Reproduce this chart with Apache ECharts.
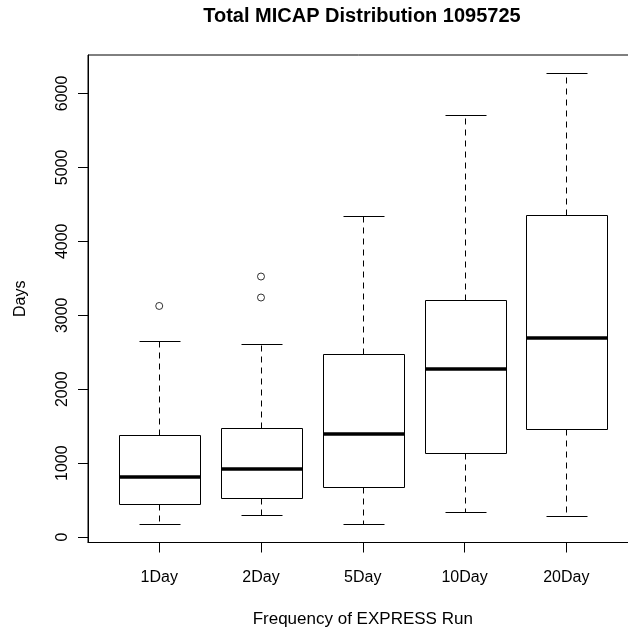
<!DOCTYPE html>
<html>
<head>
<meta charset="utf-8">
<script src="https://cdn.jsdelivr.net/npm/echarts@6/dist/echarts.min.js"></script>
<style>html,body{margin:0;padding:0;background:#fff;}#c{width:628px;height:627px;}</style>
</head>
<body>
<div id="c"></div>
<script>
var categories = ['1Day', '2Day', '5Day', '10Day', '20Day'];
var lowWhisker = [181, 294, 172, 339, 285];
var q1 = [452, 528, 682, 1133, 1457];
var median = [808, 925, 1399, 2269, 2689];
var q3 = [1386, 1475, 2482, 3203, 4357];
var highWhisker = [2652, 2612, 4344, 5706, 6275];
var outlierCategory = ['1Day', '2Day', '2Day'];
var outlierValue = [3126, 3524, 3240];
var yTicks = [0, 1000, 2000, 3000, 4000, 5000, 6000];

var boxData = categories.map(function (c, i) {
  return [i + 1, lowWhisker[i], q1[i], median[i], q3[i], highWhisker[i]];
});
var outlierData = outlierCategory.map(function (c, i) {
  return [categories.indexOf(c) + 1, outlierValue[i]];
});
var xPos = categories.map(function (c, i) { return i + 1; });

var FONT = 'Liberation Sans, Arial, sans-serif';
function px(v) { return Math.round(v) + 0.5; }

function renderBox(params, api) {
  var x = api.value(0);
  var lo = api.coord([x, api.value(1)]);
  var b1 = api.coord([x, api.value(2)]);
  var md = api.coord([x, api.value(3)]);
  var b3 = api.coord([x, api.value(4)]);
  var hi = api.coord([x, api.value(5)]);
  var halfBox = api.size([0.4, 0])[0];
  var halfCap = api.size([0.2, 0])[0];
  var cx = px(lo[0]);
  var line = { stroke: '#000', lineWidth: 1 };
  var dashed = { stroke: '#000', lineWidth: 1, lineDash: [6, 5] };
  return {
    type: 'group',
    children: [
      { type: 'line', shape: { x1: cx, y1: px(b3[1]), x2: cx, y2: px(hi[1]) }, style: dashed },
      { type: 'line', shape: { x1: cx, y1: px(b1[1]), x2: cx, y2: px(lo[1]) }, style: dashed },
      { type: 'line', shape: { x1: px(cx - halfCap), y1: px(hi[1]), x2: px(cx + halfCap), y2: px(hi[1]) }, style: line },
      { type: 'line', shape: { x1: px(cx - halfCap), y1: px(lo[1]), x2: px(cx + halfCap), y2: px(lo[1]) }, style: line },
      { type: 'rect', shape: { x: px(cx - halfBox), y: px(b3[1]), width: Math.round(2 * halfBox), height: Math.round(b1[1] - b3[1]) }, style: { fill: '#fff', stroke: '#000', lineWidth: 1 } },
      { type: 'line', shape: { x1: px(cx - halfBox), y1: Math.round(md[1]), x2: px(cx + halfBox), y2: Math.round(md[1]) }, style: { stroke: '#000', lineWidth: 3.5 } }
    ]
  };
}

var chart = echarts.init(document.getElementById('c'), null, { renderer: 'canvas' });
chart.setOption({
  backgroundColor: '#fff',
  animation: false,
  title: {
    text: 'Total MICAP Distribution 1095725',
    left: 362, textAlign: 'center', top: 6, padding: 0,
    textStyle: { fontFamily: FONT, fontSize: 20, fontWeight: 'bold', color: '#000' }
  },
  grid: { left: 88, top: 55, width: 549.5, height: 487.5, show: true, borderColor: '#000', borderWidth: 1,
    backgroundColor: 'transparent', containLabel: false, outerBoundsMode: 'none' },
  xAxis: {
    type: 'value', min: 0.3, max: 5.7,
    name: 'Frequency of EXPRESS Run', nameLocation: 'middle', nameGap: 68,
    nameTextStyle: { fontFamily: FONT, fontSize: 17, color: '#000' },
    axisLine: { show: true, onZero: false, lineStyle: { color: '#000', width: 1 } },
    axisTick: { show: true, length: 10, customValues: xPos, lineStyle: { color: '#000' } },
    axisLabel: { customValues: xPos, margin: 27, fontFamily: FONT, fontSize: 16, color: '#000',
      formatter: function (v) { return categories[Math.round(v) - 1]; } },
    splitLine: { show: false }
  },
  yAxis: {
    type: 'value', min: -72, max: 6519,
    name: 'Days', nameLocation: 'middle', nameGap: 59, nameRotate: 90,
    nameTextStyle: { fontFamily: FONT, fontSize: 16, color: '#000' },
    axisLine: { show: true, onZero: false, lineStyle: { color: '#000', width: 1 } },
    axisTick: { show: true, length: 10, customValues: yTicks, lineStyle: { color: '#000' } },
    axisLabel: { customValues: yTicks, rotate: 90, margin: 17, fontFamily: FONT, fontSize: 16, color: '#000',
      formatter: function (v) { return String(v); } },
    splitLine: { show: false }
  },
  series: [
    { type: 'custom', renderItem: renderBox, data: boxData, encode: { x: 0, y: [1, 2, 3, 4, 5] }, clip: false },
    { type: 'scatter', data: outlierData, symbol: 'circle', symbolSize: 7,
      itemStyle: { color: '#fff', borderColor: '#000', borderWidth: 1 } }
  ]
});
</script>
</body>
</html>
